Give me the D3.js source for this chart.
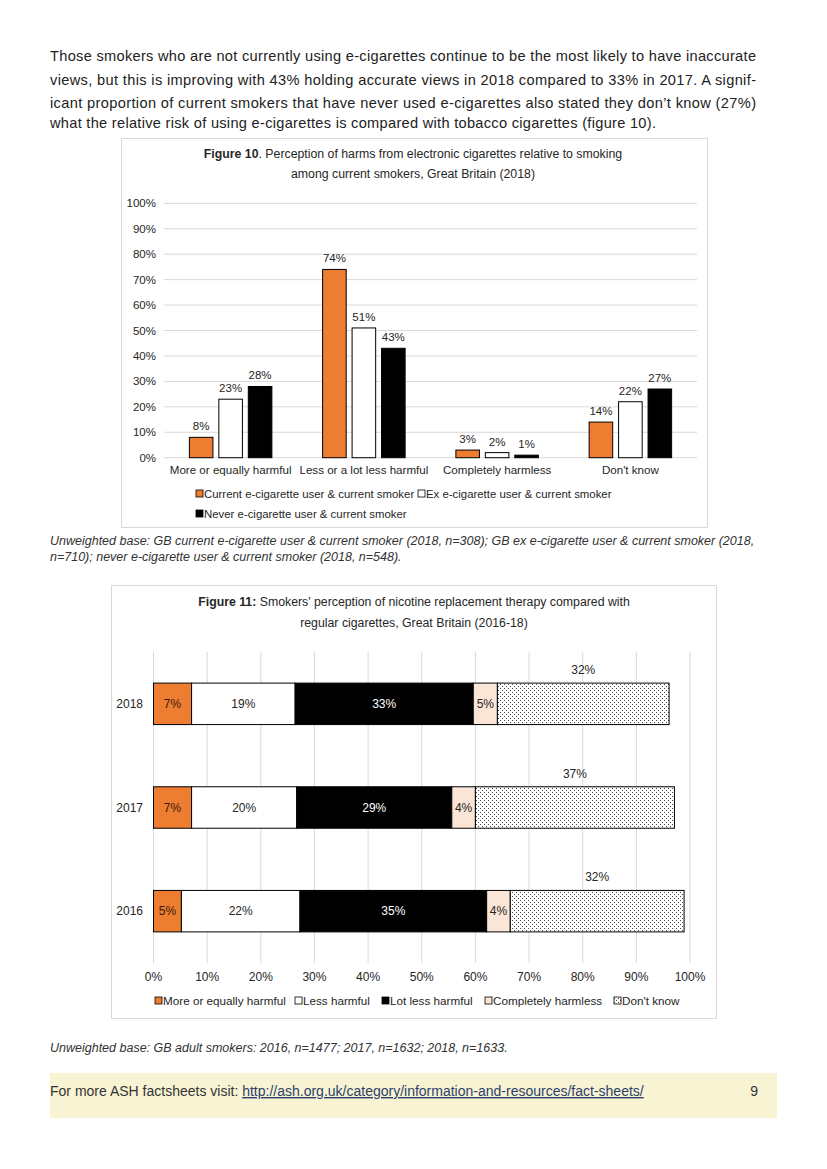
<!DOCTYPE html>
<html><head><meta charset="utf-8">
<script src="https://cdn.jsdelivr.net/npm/d3@7"></script>
<style>
html,body{margin:0;padding:0;background:#fff;}
svg{display:block;font-family:"Liberation Sans",Arial,sans-serif;}
</style></head>
<body>
<svg id="page" width="827" height="1169"></svg>
<script>
// ---------- DATA ----------
const bodyLines = [
  "Those smokers who are not currently using e-cigarettes continue to be the most likely to have inaccurate",
  "views, but this is improving with 43% holding accurate views in 2018 compared to 33% in 2017. A signif-",
  "icant proportion of current smokers that have never used e-cigarettes also stated they don\u2019t know (27%)",
  "what the relative risk of using e-cigarettes is compared with tobacco cigarettes (figure 10)."
];
// Figure 10
const fig10Categories = ["More or equally harmful", "Less or a lot less harmful", "Completely harmless", "Don't know"];
const fig10Series = ["Current e-cigarette user & current smoker", "Ex e-cigarette user & current smoker", "Never e-cigarette user & current smoker"];
const fig10Current = [8, 74, 3, 14];
const fig10Ex = [23, 51, 2, 22];
const fig10Never = [28, 43, 1, 27];
const fig10Ticks = [0, 10, 20, 30, 40, 50, 60, 70, 80, 90, 100];
// Figure 11
const fig11Years = ["2018", "2017", "2016"];
const fig11Segments = ["More or equally harmful", "Less harmful", "Lot less harmful", "Completely harmless", "Don't know"];
const fig11MoreEqual = [7.1, 7.1, 5.2];
const fig11Less = [19.3, 19.6, 22.1];
const fig11LotLess = [33.2, 28.9, 34.8];
const fig11Harmless = [4.5, 4.4, 4.4];
const fig11DontKnow = [32.0, 37.1, 32.4];
const fig11Ticks = [0, 10, 20, 30, 40, 50, 60, 70, 80, 90, 100];

const caption10 = [
  "Unweighted base: GB current e-cigarette user & current smoker (2018, n=308); GB ex e-cigarette user & current smoker (2018,",
  "n=710); never e-cigarette user & current smoker (2018, n=548)."
];
const caption11 = "Unweighted base: GB adult smokers: 2016, n=1477; 2017, n=1632; 2018, n=1633.";

// ---------- DRAW ----------
const svg = d3.select("#page");
const defs = svg.append("defs");
const pat = defs.append("pattern").attr("id","dots").attr("patternUnits","userSpaceOnUse")
  .attr("width",4).attr("height",4);
pat.append("rect").attr("width",4).attr("height",4).attr("fill","#fff");
pat.append("rect").attr("x",0).attr("y",0).attr("width",1).attr("height",1).attr("fill","#444");
pat.append("rect").attr("x",2).attr("y",2).attr("width",1).attr("height",1).attr("fill","#444");

const ORANGE = "#ed7d31", PEACH = "#fbe5d6", GRID = "#d9d9d9", TXT = "#262626";

// body text
const bodyY = [61, 84.5, 108, 128];
const bodyW = [706, 706, 706, 606];
bodyLines.forEach((t, i) => {
  svg.append("text").attr("x", 50).attr("y", bodyY[i]).attr("font-size", 14.6)
    .attr("fill", "#222").attr("textLength", bodyW[i]).attr("lengthAdjust", "spacing").text(t);
});

// ===== Figure 10 =====
const f10 = svg.append("g");
f10.append("rect").attr("x",121.5).attr("y",138.5).attr("width",586).attr("height",389)
  .attr("fill","#fff").attr("stroke",GRID);
const t10a = f10.append("text").attr("x",413).attr("y",158).attr("text-anchor","middle")
  .attr("font-size",12.3).attr("fill",TXT);
t10a.append("tspan").attr("font-weight","bold").text("Figure 10");
t10a.append("tspan").text(". Perception of harms from electronic cigarettes relative to smoking");
f10.append("text").attr("x",413).attr("y",178).attr("text-anchor","middle")
  .attr("font-size",12.3).attr("fill",TXT).text("among current  smokers, Great Britain (2018)");

const y10 = d3.scaleLinear().domain([0,100]).range([457.7, 203.3]);
const x10 = d3.scaleBand().domain(fig10Categories).range([164, 697]);
const x10s = d3.scaleBand().domain(fig10Series).range([-41.25, 41.25]).paddingInner(0.2);

f10.append("g").selectAll("line").data(fig10Ticks).join("line")
  .attr("x1",164).attr("x2",697).attr("y1",d=>y10(d)).attr("y2",d=>y10(d))
  .attr("stroke",GRID).attr("stroke-width",1);
f10.append("g").selectAll("text").data(fig10Ticks).join("text")
  .attr("x",156).attr("y",d=>y10(d)+4).attr("text-anchor","end")
  .attr("font-size",11.5).attr("fill",TXT).text(d=>d+"%");
f10.append("g").selectAll("text").data(fig10Categories).join("text")
  .attr("x",d=>x10(d)+x10.bandwidth()/2).attr("y",474).attr("text-anchor","middle")
  .attr("font-size",11.6).attr("fill",TXT).text(d=>d);

const series10 = [
  {name: fig10Series[0], vals: fig10Current, fill: ORANGE},
  {name: fig10Series[1], vals: fig10Ex, fill: "#fff"},
  {name: fig10Series[2], vals: fig10Never, fill: "#000"}
];
series10.forEach(s => {
  const g = f10.append("g");
  const data = fig10Categories.map((c,i)=>({c, v:s.vals[i]}));
  g.selectAll("rect").data(data).join("rect")
    .attr("x",d=>x10(d.c)+x10.bandwidth()/2+x10s(s.name))
    .attr("y",d=>y10(d.v)).attr("width",x10s.bandwidth())
    .attr("height",d=>y10(0)-y10(d.v))
    .attr("fill",s.fill).attr("stroke","#000").attr("stroke-width",1);
  g.selectAll("text").data(data).join("text")
    .attr("x",d=>x10(d.c)+x10.bandwidth()/2+x10s(s.name)+x10s.bandwidth()/2)
    .attr("y",d=>y10(d.v)-7).attr("text-anchor","middle")
    .attr("font-size",11.5).attr("fill",TXT).text(d=>d.v+"%");
});
// legend fig 10
const leg10 = [
  {name: fig10Series[0], fill: ORANGE, x:196, y:493},
  {name: fig10Series[1], fill: "#fff", x:418, y:493},
  {name: fig10Series[2], fill: "#000", x:196, y:513}
];
leg10.forEach(l => {
  f10.append("rect").attr("x",l.x).attr("y",l.y-3).attr("width",7).attr("height",7)
    .attr("fill",l.fill).attr("stroke","#000").attr("stroke-width",0.8);
  f10.append("text").attr("x",l.x+8).attr("y",l.y+4.5).attr("font-size",11.4)
    .attr("fill",TXT).text(l.name);
});

// captions
caption10.forEach((t,i)=>{
  svg.append("text").attr("x",50).attr("y",545+i*16).attr("font-size",12.5)
    .attr("font-style","italic").attr("fill","#333").text(t);
});

// ===== Figure 11 =====
const f11 = svg.append("g");
f11.append("rect").attr("x",111.5).attr("y",585.5).attr("width",605).attr("height",433)
  .attr("fill","#fff").attr("stroke",GRID);
const t11a = f11.append("text").attr("x",414).attr("y",606).attr("text-anchor","middle")
  .attr("font-size",12.3).attr("fill",TXT);
t11a.append("tspan").attr("font-weight","bold").text("Figure 11:");
t11a.append("tspan").text(" Smokers' perception of nicotine replacement therapy compared with");
f11.append("text").attr("x",414).attr("y",627).attr("text-anchor","middle")
  .attr("font-size",12.3).attr("fill",TXT).text("regular cigarettes, Great Britain (2016-18)");

const x11 = d3.scaleLinear().domain([0,100]).range([153.5, 690]);
const y11 = d3.scaleBand().domain(fig11Years).range([652, 963]).paddingInner(0.6).paddingOuter(0.3);

f11.append("g").selectAll("line").data(fig11Ticks).join("line")
  .attr("x1",d=>x11(d)).attr("x2",d=>x11(d)).attr("y1",652).attr("y2",963)
  .attr("stroke",GRID).attr("stroke-width",1);
f11.append("g").selectAll("text").data(fig11Ticks).join("text")
  .attr("x",d=>x11(d)).attr("y",981).attr("text-anchor","middle")
  .attr("font-size",12).attr("fill",TXT).text(d=>d+"%");
f11.append("g").selectAll("text").data(fig11Years).join("text")
  .attr("x",143).attr("y",d=>y11(d)+y11.bandwidth()/2+4).attr("text-anchor","end")
  .attr("font-size",12).attr("fill",TXT).text(d=>d);

const segVals = [fig11MoreEqual, fig11Less, fig11LotLess, fig11Harmless, fig11DontKnow];
const segFill = [ORANGE, "#fff", "#000", PEACH, "url(#dots)"];
const segText = ["#3a1a08", TXT, "#fff", TXT, TXT];
const stacked = [];
fig11Years.forEach((yr, yi) => {
  let cum = 0;
  segVals.forEach((arr, si) => {
    stacked.push({yr, si, x0: cum, x1: cum + arr[yi], v: arr[yi]});
    cum += arr[yi];
  });
});
f11.append("g").selectAll("rect").data(stacked).join("rect")
  .attr("x",d=>x11(d.x0)).attr("y",d=>y11(d.yr))
  .attr("width",d=>x11(d.x1)-x11(d.x0)).attr("height",y11.bandwidth())
  .attr("fill",d=>segFill[d.si]).attr("stroke","#000").attr("stroke-width",1);
f11.append("g").selectAll("text").data(stacked).join("text")
  .attr("x",d=>(x11(d.x0)+x11(d.x1))/2)
  .attr("y",d=> d.si===4 ? y11(d.yr)-9 : y11(d.yr)+y11.bandwidth()/2+4)
  .attr("text-anchor","middle").attr("font-size",12)
  .attr("fill",d=>segText[d.si]).text(d=>Math.round(d.v)+"%");

// legend fig 11
const leg11x = [155, 295, 382, 485, 614];
fig11Segments.forEach((name,i)=>{
  f11.append("rect").attr("x",leg11x[i]).attr("y",997).attr("width",7).attr("height",7)
    .attr("fill",segFill[i]).attr("stroke","#000").attr("stroke-width",0.8);
  f11.append("text").attr("x",leg11x[i]+8).attr("y",1005).attr("font-size",11.7)
    .attr("fill",TXT).text(name);
});

svg.append("text").attr("x",50).attr("y",1052).attr("font-size",12.5)
  .attr("font-style","italic").attr("fill","#333").text(caption11);

// footer
svg.append("rect").attr("x",50).attr("y",1073).attr("width",727).attr("height",45).attr("fill","#f8f3d3");
const ft = svg.append("text").attr("x",50).attr("y",1096).attr("font-size",14).attr("fill","#333");
ft.append("tspan").text("For more ASH factsheets visit: ");
ft.append("tspan").attr("fill","#2b3f6b").attr("text-decoration","underline")
  .text("http://ash.org.uk/category/information-and-resources/fact-sheets/");
svg.append("text").attr("x",758).attr("y",1096).attr("text-anchor","end").attr("font-size",14)
  .attr("fill","#333").text("9");
</script>
</body></html>
